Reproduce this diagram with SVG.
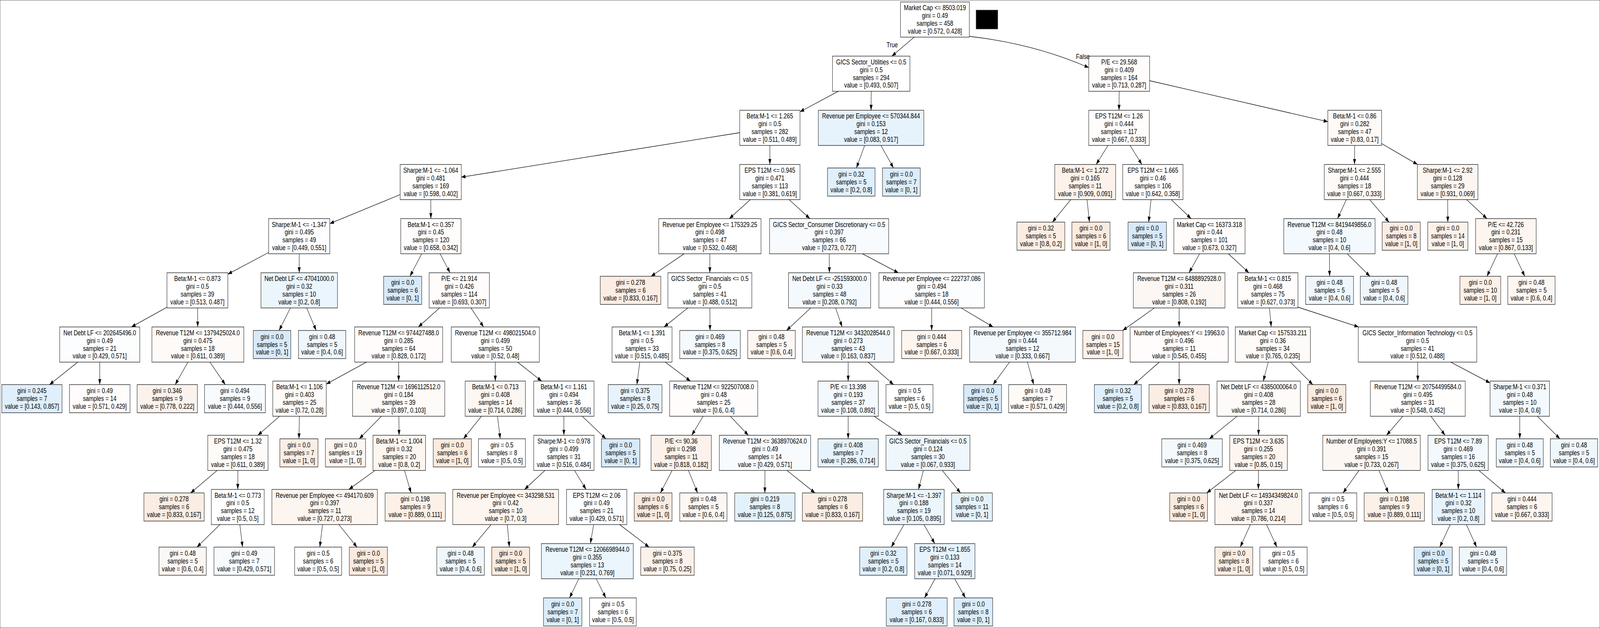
<svg xmlns="http://www.w3.org/2000/svg" width="5414" height="1607" viewBox="0 0 5414 1607" preserveAspectRatio="none">
<defs>
<marker id="ah" viewBox="0 0 14 10" refX="14" refY="5" markerWidth="14" markerHeight="10" markerUnits="userSpaceOnUse" orient="auto"><path d="M0,0L14,5L0,10z" fill="#000"/></marker>
<style>
svg{width:100vw;height:100vh}
rect{stroke:#333;stroke-width:1.5}
text{font-family:"Liberation Sans",Arial,Helvetica,sans-serif;font-size:19px;text-anchor:middle;fill:#000}
.e{stroke:#000;stroke-width:1.3;fill:none;marker-end:url(#ah)}
.w{fill:#ffffff}
.o0{fill:#fffefd}.o1{fill:#fffcfb}.o2{fill:#fefaf7}.o3{fill:#fdf7f3}.o4{fill:#fdf5ef}.o5{fill:#fcf2eb}.o6{fill:#fcf0e7}.o7{fill:#fbede3}.o8{fill:#fbeade}
.b0{fill:#fdfeff}.b1{fill:#fbfdff}.b2{fill:#f7fbfe}.b3{fill:#f3f9fd}.b4{fill:#eff7fd}.b5{fill:#ebf5fc}.b6{fill:#e7f3fc}.b7{fill:#e3f1fb}.b8{fill:#dfeffb}.b9{fill:#dbedfa}.b10{fill:#d8eaf9}
</style>
</defs>
<rect x="0" y="0" width="5414" height="1607" fill="#fff" stroke="none"/>
<rect x="3303" y="26" width="73" height="48" fill="#000" stroke="none"/>
<g id="nodes">
<g id="n0"><rect class="w" x="3047" y="5" width="233" height="90"/><text y="26.2"><tspan x="3163.5">Market Cap &lt;= 8503.019</tspan><tspan x="3163.5" dy="19.9">gini = 0.49</tspan><tspan x="3163.5" dy="19.9">samples = 458</tspan><tspan x="3163.5" dy="19.9">value = [0.572, 0.428]</tspan></text></g>
<g id="n1"><rect class="w" x="2817" y="143.6" width="262" height="90"/><text y="164.8"><tspan x="2948">GICS Sector_Utilities &lt;= 0.5</tspan><tspan x="2948" dy="19.9">gini = 0.5</tspan><tspan x="2948" dy="19.9">samples = 294</tspan><tspan x="2948" dy="19.9">value = [0.493, 0.507]</tspan></text></g>
<g id="n2"><rect class="o1" x="3684" y="143.6" width="206" height="90"/><text y="164.8"><tspan x="3787">P/E &lt;= 29.568</tspan><tspan x="3787" dy="19.9">gini = 0.409</tspan><tspan x="3787" dy="19.9">samples = 164</tspan><tspan x="3787" dy="19.9">value = [0.713, 0.287]</tspan></text></g>
<g id="n3"><rect class="w" x="2503" y="282.2" width="204" height="90"/><text y="303.4"><tspan x="2605">Beta:M-1 &lt;= 1.265</tspan><tspan x="2605" dy="19.9">gini = 0.5</tspan><tspan x="2605" dy="19.9">samples = 282</tspan><tspan x="2605" dy="19.9">value = [0.511, 0.489]</tspan></text></g>
<g id="n4"><rect class="b6" x="2769" y="282.2" width="357" height="90"/><text y="303.4"><tspan x="2947.5">Revenue per Employee &lt;= 570344.844</tspan><tspan x="2947.5" dy="19.9">gini = 0.153</tspan><tspan x="2947.5" dy="19.9">samples = 12</tspan><tspan x="2947.5" dy="19.9">value = [0.083, 0.917]</tspan></text></g>
<g id="n5"><rect class="o1" x="3684" y="282.2" width="205" height="90"/><text y="303.4"><tspan x="3786.5">EPS T12M &lt;= 1.26</tspan><tspan x="3786.5" dy="19.9">gini = 0.444</tspan><tspan x="3786.5" dy="19.9">samples = 117</tspan><tspan x="3786.5" dy="19.9">value = [0.667, 0.333]</tspan></text></g>
<g id="n6"><rect class="o2" x="4493" y="282.2" width="182" height="90"/><text y="303.4"><tspan x="4584">Beta:M-1 &lt;= 0.86</tspan><tspan x="4584" dy="19.9">gini = 0.282</tspan><tspan x="4584" dy="19.9">samples = 47</tspan><tspan x="4584" dy="19.9">value = [0.83, 0.17]</tspan></text></g>
<g id="n7"><rect class="o0" x="1354" y="420.8" width="207" height="90"/><text y="442"><tspan x="1457.5">Sharpe:M-1 &lt;= -1.064</tspan><tspan x="1457.5" dy="19.9">gini = 0.481</tspan><tspan x="1457.5" dy="19.9">samples = 169</tspan><tspan x="1457.5" dy="19.9">value = [0.598, 0.402]</tspan></text></g>
<g id="n8"><rect class="b1" x="2503" y="420.8" width="204" height="90"/><text y="442"><tspan x="2605">EPS T12M &lt;= 0.945</tspan><tspan x="2605" dy="19.9">gini = 0.471</tspan><tspan x="2605" dy="19.9">samples = 113</tspan><tspan x="2605" dy="19.9">value = [0.381, 0.619]</tspan></text></g>
<g id="n9"><rect class="b8" x="2800" y="429.8" width="161" height="72"/><text y="451.9"><tspan x="2880.5">gini = 0.32</tspan><tspan x="2880.5" dy="19.9">samples = 5</tspan><tspan x="2880.5" dy="19.9">value = [0.2, 0.8]</tspan></text></g>
<g id="n10"><rect class="b9" x="2986" y="429.8" width="128" height="72"/><text y="451.9"><tspan x="3050">gini = 0.0</tspan><tspan x="3050" dy="19.9">samples = 7</tspan><tspan x="3050" dy="19.9">value = [0, 1]</tspan></text></g>
<g id="n11"><rect class="o5" x="3569" y="420.8" width="206" height="90"/><text y="442"><tspan x="3672">Beta:M-1 &lt;= 1.272</tspan><tspan x="3672" dy="19.9">gini = 0.165</tspan><tspan x="3672" dy="19.9">samples = 11</tspan><tspan x="3672" dy="19.9">value = [0.909, 0.091]</tspan></text></g>
<g id="n12"><rect class="o1" x="3799" y="420.8" width="204" height="90"/><text y="442"><tspan x="3901">EPS T12M &lt;= 1.665</tspan><tspan x="3901" dy="19.9">gini = 0.46</tspan><tspan x="3901" dy="19.9">samples = 106</tspan><tspan x="3901" dy="19.9">value = [0.642, 0.358]</tspan></text></g>
<g id="n13"><rect class="o2" x="4481" y="420.8" width="204" height="90"/><text y="442"><tspan x="4583">Sharpe:M-1 &lt;= 2.555</tspan><tspan x="4583" dy="19.9">gini = 0.444</tspan><tspan x="4583" dy="19.9">samples = 18</tspan><tspan x="4583" dy="19.9">value = [0.667, 0.333]</tspan></text></g>
<g id="n14"><rect class="o4" x="4796" y="420.8" width="205" height="90"/><text y="442"><tspan x="4898.5">Sharpe:M-1 &lt;= 2.92</tspan><tspan x="4898.5" dy="19.9">gini = 0.128</tspan><tspan x="4898.5" dy="19.9">samples = 29</tspan><tspan x="4898.5" dy="19.9">value = [0.931, 0.069]</tspan></text></g>
<g id="n15"><rect class="b0" x="909" y="559.4" width="207" height="90"/><text y="580.6"><tspan x="1012.5">Sharpe:M-1 &lt;= -1.347</tspan><tspan x="1012.5" dy="19.9">gini = 0.495</tspan><tspan x="1012.5" dy="19.9">samples = 49</tspan><tspan x="1012.5" dy="19.9">value = [0.449, 0.551]</tspan></text></g>
<g id="n16"><rect class="o1" x="1356" y="559.4" width="204" height="90"/><text y="580.6"><tspan x="1458">Beta:M-1 &lt;= 0.357</tspan><tspan x="1458" dy="19.9">gini = 0.45</tspan><tspan x="1458" dy="19.9">samples = 120</tspan><tspan x="1458" dy="19.9">value = [0.658, 0.342]</tspan></text></g>
<g id="n17"><rect class="w" x="2229" y="559.4" width="346" height="90"/><text y="580.6"><tspan x="2402">Revenue per Employee &lt;= 175329.25</tspan><tspan x="2402" dy="19.9">gini = 0.498</tspan><tspan x="2402" dy="19.9">samples = 47</tspan><tspan x="2402" dy="19.9">value = [0.532, 0.468]</tspan></text></g>
<g id="n18"><rect class="b2" x="2604" y="559.4" width="403" height="90"/><text y="580.6"><tspan x="2805.5">GICS Sector_Consumer Discretionary &lt;= 0.5</tspan><tspan x="2805.5" dy="19.9">gini = 0.397</tspan><tspan x="2805.5" dy="19.9">samples = 66</tspan><tspan x="2805.5" dy="19.9">value = [0.273, 0.727]</tspan></text></g>
<g id="n19"><rect class="o7" x="3441" y="568.4" width="162" height="72"/><text y="590.5"><tspan x="3522">gini = 0.32</tspan><tspan x="3522" dy="19.9">samples = 5</tspan><tspan x="3522" dy="19.9">value = [0.8, 0.2]</tspan></text></g>
<g id="n20"><rect class="o8" x="3627" y="568.4" width="129" height="72"/><text y="590.5"><tspan x="3691.5">gini = 0.0</tspan><tspan x="3691.5" dy="19.9">samples = 6</tspan><tspan x="3691.5" dy="19.9">value = [1, 0]</tspan></text></g>
<g id="n21"><rect class="b10" x="3817" y="568.4" width="130" height="72"/><text y="590.5"><tspan x="3882">gini = 0.0</tspan><tspan x="3882" dy="19.9">samples = 5</tspan><tspan x="3882" dy="19.9">value = [0, 1]</tspan></text></g>
<g id="n22"><rect class="o1" x="3972" y="559.4" width="241" height="90"/><text y="580.6"><tspan x="4092.5">Market Cap &lt;= 16373.318</tspan><tspan x="4092.5" dy="19.9">gini = 0.44</tspan><tspan x="4092.5" dy="19.9">samples = 101</tspan><tspan x="4092.5" dy="19.9">value = [0.673, 0.327]</tspan></text></g>
<g id="n23"><rect class="b3" x="4344" y="559.4" width="309" height="90"/><text y="580.6"><tspan x="4498.5">Revenue T12M &lt;= 8419449856.0</tspan><tspan x="4498.5" dy="19.9">gini = 0.48</tspan><tspan x="4498.5" dy="19.9">samples = 10</tspan><tspan x="4498.5" dy="19.9">value = [0.4, 0.6]</tspan></text></g>
<g id="n24"><rect class="o7" x="4677" y="568.4" width="129" height="72"/><text y="590.5"><tspan x="4741.5">gini = 0.0</tspan><tspan x="4741.5" dy="19.9">samples = 8</tspan><tspan x="4741.5" dy="19.9">value = [1, 0]</tspan></text></g>
<g id="n25"><rect class="o5" x="4831" y="568.4" width="136" height="72"/><text y="590.5"><tspan x="4899">gini = 0.0</tspan><tspan x="4899" dy="19.9">samples = 14</tspan><tspan x="4899" dy="19.9">value = [1, 0]</tspan></text></g>
<g id="n26"><rect class="o4" x="4993" y="559.4" width="205" height="90"/><text y="580.6"><tspan x="5095.5">P/E &lt;= 42.726</tspan><tspan x="5095.5" dy="19.9">gini = 0.231</tspan><tspan x="5095.5" dy="19.9">samples = 15</tspan><tspan x="5095.5" dy="19.9">value = [0.867, 0.133]</tspan></text></g>
<g id="n27"><rect class="w" x="565" y="698" width="206" height="90"/><text y="719.2"><tspan x="668">Beta:M-1 &lt;= 0.873</tspan><tspan x="668" dy="19.9">gini = 0.5</tspan><tspan x="668" dy="19.9">samples = 39</tspan><tspan x="668" dy="19.9">value = [0.513, 0.487]</tspan></text></g>
<g id="n28"><rect class="b5" x="883" y="698" width="259" height="90"/><text y="719.2"><tspan x="1012.5">Net Debt LF &lt;= 47041000.0</tspan><tspan x="1012.5" dy="19.9">gini = 0.32</tspan><tspan x="1012.5" dy="19.9">samples = 10</tspan><tspan x="1012.5" dy="19.9">value = [0.2, 0.8]</tspan></text></g>
<g id="n29"><rect class="b10" x="1298" y="707" width="129" height="72"/><text y="729.1"><tspan x="1362.5">gini = 0.0</tspan><tspan x="1362.5" dy="19.9">samples = 6</tspan><tspan x="1362.5" dy="19.9">value = [0, 1]</tspan></text></g>
<g id="n30"><rect class="o1" x="1452" y="698" width="204" height="90"/><text y="719.2"><tspan x="1554">P/E &lt;= 21.914</tspan><tspan x="1554" dy="19.9">gini = 0.426</tspan><tspan x="1554" dy="19.9">samples = 114</tspan><tspan x="1554" dy="19.9">value = [0.693, 0.307]</tspan></text></g>
<g id="n31"><rect class="o7" x="2031" y="707" width="205" height="72"/><text y="729.1"><tspan x="2133.5">gini = 0.278</tspan><tspan x="2133.5" dy="19.9">samples = 6</tspan><tspan x="2133.5" dy="19.9">value = [0.833, 0.167]</tspan></text></g>
<g id="n32"><rect class="w" x="2260" y="698" width="284" height="90"/><text y="719.2"><tspan x="2402">GICS Sector_Financials &lt;= 0.5</tspan><tspan x="2402" dy="19.9">gini = 0.5</tspan><tspan x="2402" dy="19.9">samples = 41</tspan><tspan x="2402" dy="19.9">value = [0.488, 0.512]</tspan></text></g>
<g id="n33"><rect class="b3" x="2668" y="698" width="278" height="90"/><text y="719.2"><tspan x="2807">Net Debt LF &lt;= -251593000.0</tspan><tspan x="2807" dy="19.9">gini = 0.33</tspan><tspan x="2807" dy="19.9">samples = 48</tspan><tspan x="2807" dy="19.9">value = [0.208, 0.792]</tspan></text></g>
<g id="n34"><rect class="b1" x="2974" y="698" width="357" height="90"/><text y="719.2"><tspan x="3152.5">Revenue per Employee &lt;= 222737.086</tspan><tspan x="3152.5" dy="19.9">gini = 0.494</tspan><tspan x="3152.5" dy="19.9">samples = 18</tspan><tspan x="3152.5" dy="19.9">value = [0.444, 0.556]</tspan></text></g>
<g id="n35"><rect class="o3" x="3835" y="698" width="310" height="90"/><text y="719.2"><tspan x="3990">Revenue T12M &lt;= 6488892928.0</tspan><tspan x="3990" dy="19.9">gini = 0.311</tspan><tspan x="3990" dy="19.9">samples = 26</tspan><tspan x="3990" dy="19.9">value = [0.808, 0.192]</tspan></text></g>
<g id="n36"><rect class="o1" x="4188" y="698" width="204" height="90"/><text y="719.2"><tspan x="4290">Beta:M-1 &lt;= 0.815</tspan><tspan x="4290" dy="19.9">gini = 0.468</tspan><tspan x="4290" dy="19.9">samples = 75</tspan><tspan x="4290" dy="19.9">value = [0.627, 0.373]</tspan></text></g>
<g id="n37"><rect class="b4" x="4418" y="707" width="162" height="72"/><text y="729.1"><tspan x="4499">gini = 0.48</tspan><tspan x="4499" dy="19.9">samples = 5</tspan><tspan x="4499" dy="19.9">value = [0.4, 0.6]</tspan></text></g>
<g id="n38"><rect class="b4" x="4603" y="707" width="161" height="72"/><text y="729.1"><tspan x="4683.5">gini = 0.48</tspan><tspan x="4683.5" dy="19.9">samples = 5</tspan><tspan x="4683.5" dy="19.9">value = [0.4, 0.6]</tspan></text></g>
<g id="n39"><rect class="o6" x="4940" y="707" width="138" height="72"/><text y="729.1"><tspan x="5009">gini = 0.0</tspan><tspan x="5009" dy="19.9">samples = 10</tspan><tspan x="5009" dy="19.9">value = [1, 0]</tspan></text></g>
<g id="n40"><rect class="o3" x="5102" y="707" width="160" height="72"/><text y="729.1"><tspan x="5182">gini = 0.48</tspan><tspan x="5182" dy="19.9">samples = 5</tspan><tspan x="5182" dy="19.9">value = [0.6, 0.4]</tspan></text></g>
<g id="n41"><rect class="b1" x="202" y="836.6" width="271" height="90"/><text y="857.8"><tspan x="337.5">Net Debt LF &lt;= 202645496.0</tspan><tspan x="337.5" dy="19.9">gini = 0.49</tspan><tspan x="337.5" dy="19.9">samples = 21</tspan><tspan x="337.5" dy="19.9">value = [0.429, 0.571]</tspan></text></g>
<g id="n42"><rect class="o2" x="514" y="836.6" width="311" height="90"/><text y="857.8"><tspan x="669.5">Revenue T12M &lt;= 1379425024.0</tspan><tspan x="669.5" dy="19.9">gini = 0.475</tspan><tspan x="669.5" dy="19.9">samples = 18</tspan><tspan x="669.5" dy="19.9">value = [0.611, 0.389]</tspan></text></g>
<g id="n43"><rect class="b10" x="857" y="845.6" width="127" height="72"/><text y="867.7"><tspan x="920.5">gini = 0.0</tspan><tspan x="920.5" dy="19.9">samples = 5</tspan><tspan x="920.5" dy="19.9">value = [0, 1]</tspan></text></g>
<g id="n44"><rect class="b4" x="1010" y="845.6" width="160" height="72"/><text y="867.7"><tspan x="1090">gini = 0.48</tspan><tspan x="1090" dy="19.9">samples = 5</tspan><tspan x="1090" dy="19.9">value = [0.4, 0.6]</tspan></text></g>
<g id="n45"><rect class="o1" x="1200" y="836.6" width="298" height="90"/><text y="857.8"><tspan x="1349">Revenue T12M &lt;= 974427488.0</tspan><tspan x="1349" dy="19.9">gini = 0.285</tspan><tspan x="1349" dy="19.9">samples = 64</tspan><tspan x="1349" dy="19.9">value = [0.828, 0.172]</tspan></text></g>
<g id="n46"><rect class="w" x="1527" y="836.6" width="298" height="90"/><text y="857.8"><tspan x="1676">Revenue T12M &lt;= 498021504.0</tspan><tspan x="1676" dy="19.9">gini = 0.499</tspan><tspan x="1676" dy="19.9">samples = 50</tspan><tspan x="1676" dy="19.9">value = [0.52, 0.48]</tspan></text></g>
<g id="n47"><rect class="w" x="2071" y="836.6" width="203" height="90"/><text y="857.8"><tspan x="2172.5">Beta:M-1 &lt;= 1.391</tspan><tspan x="2172.5" dy="19.9">gini = 0.5</tspan><tspan x="2172.5" dy="19.9">samples = 33</tspan><tspan x="2172.5" dy="19.9">value = [0.515, 0.485]</tspan></text></g>
<g id="n48"><rect class="b3" x="2300" y="845.6" width="205" height="72"/><text y="867.7"><tspan x="2402.5">gini = 0.469</tspan><tspan x="2402.5" dy="19.9">samples = 8</tspan><tspan x="2402.5" dy="19.9">value = [0.375, 0.625]</tspan></text></g>
<g id="n49"><rect class="o3" x="2530" y="845.6" width="161" height="72"/><text y="867.7"><tspan x="2610.5">gini = 0.48</tspan><tspan x="2610.5" dy="19.9">samples = 5</tspan><tspan x="2610.5" dy="19.9">value = [0.6, 0.4]</tspan></text></g>
<g id="n50"><rect class="b3" x="2715" y="836.6" width="310" height="90"/><text y="857.8"><tspan x="2870">Revenue T12M &lt;= 3432028544.0</tspan><tspan x="2870" dy="19.9">gini = 0.273</tspan><tspan x="2870" dy="19.9">samples = 43</tspan><tspan x="2870" dy="19.9">value = [0.163, 0.837]</tspan></text></g>
<g id="n51"><rect class="o4" x="3051" y="845.6" width="203" height="72"/><text y="867.7"><tspan x="3152.5">gini = 0.444</tspan><tspan x="3152.5" dy="19.9">samples = 6</tspan><tspan x="3152.5" dy="19.9">value = [0.667, 0.333]</tspan></text></g>
<g id="n52"><rect class="b3" x="3281" y="836.6" width="358" height="90"/><text y="857.8"><tspan x="3460">Revenue per Employee &lt;= 355712.984</tspan><tspan x="3460" dy="19.9">gini = 0.444</tspan><tspan x="3460" dy="19.9">samples = 12</tspan><tspan x="3460" dy="19.9">value = [0.333, 0.667]</tspan></text></g>
<g id="n53"><rect class="o5" x="3664" y="845.6" width="136" height="72"/><text y="867.7"><tspan x="3732">gini = 0.0</tspan><tspan x="3732" dy="19.9">samples = 15</tspan><tspan x="3732" dy="19.9">value = [1, 0]</tspan></text></g>
<g id="n54"><rect class="o1" x="3824" y="836.6" width="332" height="90"/><text y="857.8"><tspan x="3990">Number of Employees:Y &lt;= 19963.0</tspan><tspan x="3990" dy="19.9">gini = 0.496</tspan><tspan x="3990" dy="19.9">samples = 11</tspan><tspan x="3990" dy="19.9">value = [0.545, 0.455]</tspan></text></g>
<g id="n55"><rect class="o2" x="4180" y="836.6" width="254" height="90"/><text y="857.8"><tspan x="4307">Market Cap &lt;= 157533.211</tspan><tspan x="4307" dy="19.9">gini = 0.36</tspan><tspan x="4307" dy="19.9">samples = 34</tspan><tspan x="4307" dy="19.9">value = [0.765, 0.235]</tspan></text></g>
<g id="n56"><rect class="w" x="4596" y="836.6" width="401" height="90"/><text y="857.8"><tspan x="4796.5">GICS Sector_Information Technology &lt;= 0.5</tspan><tspan x="4796.5" dy="19.9">gini = 0.5</tspan><tspan x="4796.5" dy="19.9">samples = 41</tspan><tspan x="4796.5" dy="19.9">value = [0.512, 0.488]</tspan></text></g>
<g id="n57"><rect class="b8" x="6" y="984.2" width="204" height="72"/><text y="1006.3"><tspan x="108">gini = 0.245</tspan><tspan x="108" dy="19.9">samples = 7</tspan><tspan x="108" dy="19.9">value = [0.143, 0.857]</tspan></text></g>
<g id="n58"><rect class="o1" x="235" y="984.2" width="205" height="72"/><text y="1006.3"><tspan x="337.5">gini = 0.49</tspan><tspan x="337.5" dy="19.9">samples = 14</tspan><tspan x="337.5" dy="19.9">value = [0.571, 0.429]</tspan></text></g>
<g id="n59"><rect class="o5" x="464" y="984.2" width="204" height="72"/><text y="1006.3"><tspan x="566">gini = 0.346</tspan><tspan x="566" dy="19.9">samples = 9</tspan><tspan x="566" dy="19.9">value = [0.778, 0.222]</tspan></text></g>
<g id="n60"><rect class="b2" x="692" y="984.2" width="206" height="72"/><text y="1006.3"><tspan x="795">gini = 0.494</tspan><tspan x="795" dy="19.9">samples = 9</tspan><tspan x="795" dy="19.9">value = [0.444, 0.556]</tspan></text></g>
<g id="n61"><rect class="o2" x="923" y="975.2" width="181" height="90"/><text y="996.4"><tspan x="1013.5">Beta:M-1 &lt;= 1.106</tspan><tspan x="1013.5" dy="19.9">gini = 0.403</tspan><tspan x="1013.5" dy="19.9">samples = 25</tspan><tspan x="1013.5" dy="19.9">value = [0.72, 0.28]</tspan></text></g>
<g id="n62"><rect class="o2" x="1193" y="975.2" width="312" height="90"/><text y="996.4"><tspan x="1349">Revenue T12M &lt;= 1696112512.0</tspan><tspan x="1349" dy="19.9">gini = 0.184</tspan><tspan x="1349" dy="19.9">samples = 39</tspan><tspan x="1349" dy="19.9">value = [0.897, 0.103]</tspan></text></g>
<g id="n63"><rect class="o3" x="1574" y="975.2" width="204" height="90"/><text y="996.4"><tspan x="1676">Beta:M-1 &lt;= 0.713</tspan><tspan x="1676" dy="19.9">gini = 0.408</tspan><tspan x="1676" dy="19.9">samples = 14</tspan><tspan x="1676" dy="19.9">value = [0.714, 0.286]</tspan></text></g>
<g id="n64"><rect class="b1" x="1806" y="975.2" width="204" height="90"/><text y="996.4"><tspan x="1908">Beta:M-1 &lt;= 1.161</tspan><tspan x="1908" dy="19.9">gini = 0.494</tspan><tspan x="1908" dy="19.9">samples = 36</tspan><tspan x="1908" dy="19.9">value = [0.444, 0.556]</tspan></text></g>
<g id="n65"><rect class="b6" x="2058" y="984.2" width="182" height="72"/><text y="1006.3"><tspan x="2149">gini = 0.375</tspan><tspan x="2149" dy="19.9">samples = 8</tspan><tspan x="2149" dy="19.9">value = [0.25, 0.75]</tspan></text></g>
<g id="n66"><rect class="o1" x="2266" y="975.2" width="298" height="90"/><text y="996.4"><tspan x="2415">Revenue T12M &lt;= 922507008.0</tspan><tspan x="2415" dy="19.9">gini = 0.48</tspan><tspan x="2415" dy="19.9">samples = 25</tspan><tspan x="2415" dy="19.9">value = [0.6, 0.4]</tspan></text></g>
<g id="n67"><rect class="b3" x="2768" y="975.2" width="204" height="90"/><text y="996.4"><tspan x="2870">P/E &lt;= 13.398</tspan><tspan x="2870" dy="19.9">gini = 0.193</tspan><tspan x="2870" dy="19.9">samples = 37</tspan><tspan x="2870" dy="19.9">value = [0.108, 0.892]</tspan></text></g>
<g id="n68"><rect class="w" x="2998" y="984.2" width="159" height="72"/><text y="1006.3"><tspan x="3077.5">gini = 0.5</tspan><tspan x="3077.5" dy="19.9">samples = 6</tspan><tspan x="3077.5" dy="19.9">value = [0.5, 0.5]</tspan></text></g>
<g id="n69"><rect class="b10" x="3261" y="984.2" width="128" height="72"/><text y="1006.3"><tspan x="3325">gini = 0.0</tspan><tspan x="3325" dy="19.9">samples = 5</tspan><tspan x="3325" dy="19.9">value = [0, 1]</tspan></text></g>
<g id="n70"><rect class="o2" x="3413" y="984.2" width="196" height="72"/><text y="1006.3"><tspan x="3511">gini = 0.49</tspan><tspan x="3511" dy="19.9">samples = 7</tspan><tspan x="3511" dy="19.9">value = [0.571, 0.429]</tspan></text></g>
<g id="n71"><rect class="b8" x="3703" y="984.2" width="159" height="72"/><text y="1006.3"><tspan x="3782.5">gini = 0.32</tspan><tspan x="3782.5" dy="19.9">samples = 5</tspan><tspan x="3782.5" dy="19.9">value = [0.2, 0.8]</tspan></text></g>
<g id="n72"><rect class="o7" x="3888" y="984.2" width="204" height="72"/><text y="1006.3"><tspan x="3990">gini = 0.278</tspan><tspan x="3990" dy="19.9">samples = 6</tspan><tspan x="3990" dy="19.9">value = [0.833, 0.167]</tspan></text></g>
<g id="n73"><rect class="o2" x="4118" y="975.2" width="282" height="90"/><text y="996.4"><tspan x="4259">Net Debt LF &lt;= 4385000064.0</tspan><tspan x="4259" dy="19.9">gini = 0.408</tspan><tspan x="4259" dy="19.9">samples = 28</tspan><tspan x="4259" dy="19.9">value = [0.714, 0.286]</tspan></text></g>
<g id="n74"><rect class="o8" x="4425" y="984.2" width="129" height="72"/><text y="1006.3"><tspan x="4489.5">gini = 0.0</tspan><tspan x="4489.5" dy="19.9">samples = 6</tspan><tspan x="4489.5" dy="19.9">value = [1, 0]</tspan></text></g>
<g id="n75"><rect class="o0" x="4637" y="975.2" width="321" height="90"/><text y="996.4"><tspan x="4797.5">Revenue T12M &lt;= 20754499584.0</tspan><tspan x="4797.5" dy="19.9">gini = 0.495</tspan><tspan x="4797.5" dy="19.9">samples = 31</tspan><tspan x="4797.5" dy="19.9">value = [0.548, 0.452]</tspan></text></g>
<g id="n76"><rect class="b3" x="5042" y="975.2" width="201" height="90"/><text y="996.4"><tspan x="5142.5">Sharpe:M-1 &lt;= 0.371</tspan><tspan x="5142.5" dy="19.9">gini = 0.48</tspan><tspan x="5142.5" dy="19.9">samples = 10</tspan><tspan x="5142.5" dy="19.9">value = [0.4, 0.6]</tspan></text></g>
<g id="n77"><rect class="o2" x="703" y="1113.8" width="204" height="90"/><text y="1135"><tspan x="805">EPS T12M &lt;= 1.32</tspan><tspan x="805" dy="19.9">gini = 0.475</tspan><tspan x="805" dy="19.9">samples = 18</tspan><tspan x="805" dy="19.9">value = [0.611, 0.389]</tspan></text></g>
<g id="n78"><rect class="o7" x="947" y="1122.8" width="129" height="72"/><text y="1144.9"><tspan x="1011.5">gini = 0.0</tspan><tspan x="1011.5" dy="19.9">samples = 7</tspan><tspan x="1011.5" dy="19.9">value = [1, 0]</tspan></text></g>
<g id="n79"><rect class="o4" x="1101" y="1122.8" width="136" height="72"/><text y="1144.9"><tspan x="1169">gini = 0.0</tspan><tspan x="1169" dy="19.9">samples = 19</tspan><tspan x="1169" dy="19.9">value = [1, 0]</tspan></text></g>
<g id="n80"><rect class="o4" x="1262" y="1113.8" width="178" height="90"/><text y="1135"><tspan x="1351">Beta:M-1 &lt;= 1.004</tspan><tspan x="1351" dy="19.9">gini = 0.32</tspan><tspan x="1351" dy="19.9">samples = 20</tspan><tspan x="1351" dy="19.9">value = [0.8, 0.2]</tspan></text></g>
<g id="n81"><rect class="o8" x="1466" y="1122.8" width="129" height="72"/><text y="1144.9"><tspan x="1530.5">gini = 0.0</tspan><tspan x="1530.5" dy="19.9">samples = 6</tspan><tspan x="1530.5" dy="19.9">value = [1, 0]</tspan></text></g>
<g id="n82"><rect class="w" x="1619" y="1122.8" width="159" height="72"/><text y="1144.9"><tspan x="1698.5">gini = 0.5</tspan><tspan x="1698.5" dy="19.9">samples = 8</tspan><tspan x="1698.5" dy="19.9">value = [0.5, 0.5]</tspan></text></g>
<g id="n83"><rect class="w" x="1806" y="1113.8" width="204" height="90"/><text y="1135"><tspan x="1908">Sharpe:M-1 &lt;= 0.978</tspan><tspan x="1908" dy="19.9">gini = 0.499</tspan><tspan x="1908" dy="19.9">samples = 31</tspan><tspan x="1908" dy="19.9">value = [0.516, 0.484]</tspan></text></g>
<g id="n84"><rect class="b10" x="2035" y="1122.8" width="130" height="72"/><text y="1144.9"><tspan x="2100">gini = 0.0</tspan><tspan x="2100" dy="19.9">samples = 5</tspan><tspan x="2100" dy="19.9">value = [0, 1]</tspan></text></g>
<g id="n85"><rect class="o5" x="2203" y="1113.8" width="204" height="90"/><text y="1135"><tspan x="2305">P/E &lt;= 90.36</tspan><tspan x="2305" dy="19.9">gini = 0.298</tspan><tspan x="2305" dy="19.9">samples = 11</tspan><tspan x="2305" dy="19.9">value = [0.818, 0.182]</tspan></text></g>
<g id="n86"><rect class="b2" x="2434" y="1113.8" width="309" height="90"/><text y="1135"><tspan x="2588.5">Revenue T12M &lt;= 3638970624.0</tspan><tspan x="2588.5" dy="19.9">gini = 0.49</tspan><tspan x="2588.5" dy="19.9">samples = 14</tspan><tspan x="2588.5" dy="19.9">value = [0.429, 0.571]</tspan></text></g>
<g id="n87"><rect class="b6" x="2768" y="1122.8" width="204" height="72"/><text y="1144.9"><tspan x="2870">gini = 0.408</tspan><tspan x="2870" dy="19.9">samples = 7</tspan><tspan x="2870" dy="19.9">value = [0.286, 0.714]</tspan></text></g>
<g id="n88"><rect class="b4" x="2998" y="1113.8" width="284" height="90"/><text y="1135"><tspan x="3140">GICS Sector_Financials &lt;= 0.5</tspan><tspan x="3140" dy="19.9">gini = 0.124</tspan><tspan x="3140" dy="19.9">samples = 30</tspan><tspan x="3140" dy="19.9">value = [0.067, 0.933]</tspan></text></g>
<g id="n89"><rect class="b3" x="3931" y="1122.8" width="205" height="72"/><text y="1144.9"><tspan x="4033.5">gini = 0.469</tspan><tspan x="4033.5" dy="19.9">samples = 8</tspan><tspan x="4033.5" dy="19.9">value = [0.375, 0.625]</tspan></text></g>
<g id="n90"><rect class="o4" x="4161" y="1113.8" width="195" height="90"/><text y="1135"><tspan x="4258.5">EPS T12M &lt;= 3.635</tspan><tspan x="4258.5" dy="19.9">gini = 0.255</tspan><tspan x="4258.5" dy="19.9">samples = 20</tspan><tspan x="4258.5" dy="19.9">value = [0.85, 0.15]</tspan></text></g>
<g id="n91"><rect class="o3" x="4476" y="1113.8" width="330" height="90"/><text y="1135"><tspan x="4641">Number of Employees:Y &lt;= 17088.5</tspan><tspan x="4641" dy="19.9">gini = 0.391</tspan><tspan x="4641" dy="19.9">samples = 15</tspan><tspan x="4641" dy="19.9">value = [0.733, 0.267]</tspan></text></g>
<g id="n92"><rect class="b3" x="4832" y="1113.8" width="204" height="90"/><text y="1135"><tspan x="4934">EPS T12M &lt;= 7.89</tspan><tspan x="4934" dy="19.9">gini = 0.469</tspan><tspan x="4934" dy="19.9">samples = 16</tspan><tspan x="4934" dy="19.9">value = [0.375, 0.625]</tspan></text></g>
<g id="n93"><rect class="b4" x="5063" y="1122.8" width="159" height="72"/><text y="1144.9"><tspan x="5142.5">gini = 0.48</tspan><tspan x="5142.5" dy="19.9">samples = 5</tspan><tspan x="5142.5" dy="19.9">value = [0.4, 0.6]</tspan></text></g>
<g id="n94"><rect class="b4" x="5246" y="1122.8" width="160" height="72"/><text y="1144.9"><tspan x="5326">gini = 0.48</tspan><tspan x="5326" dy="19.9">samples = 5</tspan><tspan x="5326" dy="19.9">value = [0.4, 0.6]</tspan></text></g>
<g id="n95"><rect class="o7" x="487" y="1261.4" width="204" height="72"/><text y="1283.5"><tspan x="589">gini = 0.278</tspan><tspan x="589" dy="19.9">samples = 6</tspan><tspan x="589" dy="19.9">value = [0.833, 0.167]</tspan></text></g>
<g id="n96"><rect class="w" x="715" y="1252.4" width="179" height="90"/><text y="1273.6"><tspan x="804.5">Beta:M-1 &lt;= 0.773</tspan><tspan x="804.5" dy="19.9">gini = 0.5</tspan><tspan x="804.5" dy="19.9">samples = 12</tspan><tspan x="804.5" dy="19.9">value = [0.5, 0.5]</tspan></text></g>
<g id="n97"><rect class="o4" x="920" y="1252.4" width="357" height="90"/><text y="1273.6"><tspan x="1098.5">Revenue per Employee &lt;= 494170.609</tspan><tspan x="1098.5" dy="19.9">gini = 0.397</tspan><tspan x="1098.5" dy="19.9">samples = 11</tspan><tspan x="1098.5" dy="19.9">value = [0.727, 0.273]</tspan></text></g>
<g id="n98"><rect class="o6" x="1303" y="1261.4" width="204" height="72"/><text y="1283.5"><tspan x="1405">gini = 0.198</tspan><tspan x="1405" dy="19.9">samples = 9</tspan><tspan x="1405" dy="19.9">value = [0.889, 0.111]</tspan></text></g>
<g id="n99"><rect class="o4" x="1532" y="1252.4" width="358" height="90"/><text y="1273.6"><tspan x="1711">Revenue per Employee &lt;= 343298.531</tspan><tspan x="1711" dy="19.9">gini = 0.42</tspan><tspan x="1711" dy="19.9">samples = 10</tspan><tspan x="1711" dy="19.9">value = [0.7, 0.3]</tspan></text></g>
<g id="n100"><rect class="b1" x="1917" y="1252.4" width="204" height="90"/><text y="1273.6"><tspan x="2019">EPS T12M &lt;= 2.06</tspan><tspan x="2019" dy="19.9">gini = 0.49</tspan><tspan x="2019" dy="19.9">samples = 21</tspan><tspan x="2019" dy="19.9">value = [0.429, 0.571]</tspan></text></g>
<g id="n101"><rect class="o8" x="2146" y="1261.4" width="128" height="72"/><text y="1283.5"><tspan x="2210">gini = 0.0</tspan><tspan x="2210" dy="19.9">samples = 6</tspan><tspan x="2210" dy="19.9">value = [1, 0]</tspan></text></g>
<g id="n102"><rect class="o3" x="2300" y="1261.4" width="160" height="72"/><text y="1283.5"><tspan x="2380">gini = 0.48</tspan><tspan x="2380" dy="19.9">samples = 5</tspan><tspan x="2380" dy="19.9">value = [0.6, 0.4]</tspan></text></g>
<g id="n103"><rect class="b7" x="2486" y="1261.4" width="204" height="72"/><text y="1283.5"><tspan x="2588">gini = 0.219</tspan><tspan x="2588" dy="19.9">samples = 8</tspan><tspan x="2588" dy="19.9">value = [0.125, 0.875]</tspan></text></g>
<g id="n104"><rect class="o7" x="2715" y="1261.4" width="204" height="72"/><text y="1283.5"><tspan x="2817">gini = 0.278</tspan><tspan x="2817" dy="19.9">samples = 6</tspan><tspan x="2817" dy="19.9">value = [0.833, 0.167]</tspan></text></g>
<g id="n105"><rect class="b5" x="2990" y="1252.4" width="205" height="90"/><text y="1273.6"><tspan x="3092.5">Sharpe:M-1 &lt;= -1.397</tspan><tspan x="3092.5" dy="19.9">gini = 0.188</tspan><tspan x="3092.5" dy="19.9">samples = 19</tspan><tspan x="3092.5" dy="19.9">value = [0.105, 0.895]</tspan></text></g>
<g id="n106"><rect class="b7" x="3220" y="1261.4" width="138" height="72"/><text y="1283.5"><tspan x="3289">gini = 0.0</tspan><tspan x="3289" dy="19.9">samples = 11</tspan><tspan x="3289" dy="19.9">value = [0, 1]</tspan></text></g>
<g id="n107"><rect class="o8" x="3958" y="1261.4" width="128" height="72"/><text y="1283.5"><tspan x="4022">gini = 0.0</tspan><tspan x="4022" dy="19.9">samples = 6</tspan><tspan x="4022" dy="19.9">value = [1, 0]</tspan></text></g>
<g id="n108"><rect class="o4" x="4111" y="1252.4" width="294" height="90"/><text y="1273.6"><tspan x="4258">Net Debt LF &lt;= 14934349824.0</tspan><tspan x="4258" dy="19.9">gini = 0.337</tspan><tspan x="4258" dy="19.9">samples = 14</tspan><tspan x="4258" dy="19.9">value = [0.786, 0.214]</tspan></text></g>
<g id="n109"><rect class="w" x="4430" y="1261.4" width="161" height="72"/><text y="1283.5"><tspan x="4510.5">gini = 0.5</tspan><tspan x="4510.5" dy="19.9">samples = 6</tspan><tspan x="4510.5" dy="19.9">value = [0.5, 0.5]</tspan></text></g>
<g id="n110"><rect class="o6" x="4616" y="1261.4" width="204" height="72"/><text y="1283.5"><tspan x="4718">gini = 0.198</tspan><tspan x="4718" dy="19.9">samples = 9</tspan><tspan x="4718" dy="19.9">value = [0.889, 0.111]</tspan></text></g>
<g id="n111"><rect class="b6" x="4846" y="1252.4" width="178" height="90"/><text y="1273.6"><tspan x="4935">Beta:M-1 &lt;= 1.114</tspan><tspan x="4935" dy="19.9">gini = 0.32</tspan><tspan x="4935" dy="19.9">samples = 10</tspan><tspan x="4935" dy="19.9">value = [0.2, 0.8]</tspan></text></g>
<g id="n112"><rect class="o4" x="5048" y="1261.4" width="204" height="72"/><text y="1283.5"><tspan x="5150">gini = 0.444</tspan><tspan x="5150" dy="19.9">samples = 6</tspan><tspan x="5150" dy="19.9">value = [0.667, 0.333]</tspan></text></g>
<g id="n113"><rect class="o3" x="538" y="1400" width="160" height="72"/><text y="1422.1"><tspan x="618">gini = 0.48</tspan><tspan x="618" dy="19.9">samples = 5</tspan><tspan x="618" dy="19.9">value = [0.6, 0.4]</tspan></text></g>
<g id="n114"><rect class="b2" x="724" y="1400" width="205" height="72"/><text y="1422.1"><tspan x="826.5">gini = 0.49</tspan><tspan x="826.5" dy="19.9">samples = 7</tspan><tspan x="826.5" dy="19.9">value = [0.429, 0.571]</tspan></text></g>
<g id="n115"><rect class="w" x="997" y="1400" width="159" height="72"/><text y="1422.1"><tspan x="1076.5">gini = 0.5</tspan><tspan x="1076.5" dy="19.9">samples = 6</tspan><tspan x="1076.5" dy="19.9">value = [0.5, 0.5]</tspan></text></g>
<g id="n116"><rect class="o8" x="1182" y="1400" width="129" height="72"/><text y="1422.1"><tspan x="1246.5">gini = 0.0</tspan><tspan x="1246.5" dy="19.9">samples = 5</tspan><tspan x="1246.5" dy="19.9">value = [1, 0]</tspan></text></g>
<g id="n117"><rect class="b4" x="1478" y="1400" width="161" height="72"/><text y="1422.1"><tspan x="1558.5">gini = 0.48</tspan><tspan x="1558.5" dy="19.9">samples = 5</tspan><tspan x="1558.5" dy="19.9">value = [0.4, 0.6]</tspan></text></g>
<g id="n118"><rect class="o8" x="1664" y="1400" width="128" height="72"/><text y="1422.1"><tspan x="1728">gini = 0.0</tspan><tspan x="1728" dy="19.9">samples = 5</tspan><tspan x="1728" dy="19.9">value = [1, 0]</tspan></text></g>
<g id="n119"><rect class="b5" x="1832" y="1391" width="311" height="90"/><text y="1412.2"><tspan x="1987.5">Revenue T12M &lt;= 1206698944.0</tspan><tspan x="1987.5" dy="19.9">gini = 0.355</tspan><tspan x="1987.5" dy="19.9">samples = 13</tspan><tspan x="1987.5" dy="19.9">value = [0.231, 0.769]</tspan></text></g>
<g id="n120"><rect class="o5" x="2168" y="1400" width="181" height="72"/><text y="1422.1"><tspan x="2258.5">gini = 0.375</tspan><tspan x="2258.5" dy="19.9">samples = 8</tspan><tspan x="2258.5" dy="19.9">value = [0.75, 0.25]</tspan></text></g>
<g id="n121"><rect class="b8" x="2909" y="1400" width="160" height="72"/><text y="1422.1"><tspan x="2989">gini = 0.32</tspan><tspan x="2989" dy="19.9">samples = 5</tspan><tspan x="2989" dy="19.9">value = [0.2, 0.8]</tspan></text></g>
<g id="n122"><rect class="b6" x="3095" y="1391" width="204" height="90"/><text y="1412.2"><tspan x="3197">EPS T12M &lt;= 1.855</tspan><tspan x="3197" dy="19.9">gini = 0.133</tspan><tspan x="3197" dy="19.9">samples = 14</tspan><tspan x="3197" dy="19.9">value = [0.071, 0.929]</tspan></text></g>
<g id="n123"><rect class="o7" x="4111" y="1400" width="128" height="72"/><text y="1422.1"><tspan x="4175">gini = 0.0</tspan><tspan x="4175" dy="19.9">samples = 8</tspan><tspan x="4175" dy="19.9">value = [1, 0]</tspan></text></g>
<g id="n124"><rect class="w" x="4263" y="1400" width="160" height="72"/><text y="1422.1"><tspan x="4343">gini = 0.5</tspan><tspan x="4343" dy="19.9">samples = 6</tspan><tspan x="4343" dy="19.9">value = [0.5, 0.5]</tspan></text></g>
<g id="n125"><rect class="b10" x="4785" y="1400" width="129" height="72"/><text y="1422.1"><tspan x="4849.5">gini = 0.0</tspan><tspan x="4849.5" dy="19.9">samples = 5</tspan><tspan x="4849.5" dy="19.9">value = [0, 1]</tspan></text></g>
<g id="n126"><rect class="b4" x="4938" y="1400" width="160" height="72"/><text y="1422.1"><tspan x="5018">gini = 0.48</tspan><tspan x="5018" dy="19.9">samples = 5</tspan><tspan x="5018" dy="19.9">value = [0.4, 0.6]</tspan></text></g>
<g id="n127"><rect class="b9" x="1839" y="1530" width="130" height="72"/><text y="1552.1"><tspan x="1904">gini = 0.0</tspan><tspan x="1904" dy="19.9">samples = 7</tspan><tspan x="1904" dy="19.9">value = [0, 1]</tspan></text></g>
<g id="n128"><rect class="w" x="1995" y="1530" width="158" height="72"/><text y="1552.1"><tspan x="2074">gini = 0.5</tspan><tspan x="2074" dy="19.9">samples = 6</tspan><tspan x="2074" dy="19.9">value = [0.5, 0.5]</tspan></text></g>
<g id="n129"><rect class="b8" x="2999" y="1530" width="206" height="72"/><text y="1552.1"><tspan x="3102">gini = 0.278</tspan><tspan x="3102" dy="19.9">samples = 6</tspan><tspan x="3102" dy="19.9">value = [0.167, 0.833]</tspan></text></g>
<g id="n130"><rect class="b9" x="3228" y="1530" width="131" height="72"/><text y="1552.1"><tspan x="3293.5">gini = 0.0</tspan><tspan x="3293.5" dy="19.9">samples = 8</tspan><tspan x="3293.5" dy="19.9">value = [0, 1]</tspan></text></g>
</g>
<g id="edges">
<path class="e" d="M3093.5 95L3018 143.6"/>
<path class="e" d="M3280 93Q3500 112 3684 173"/>
<path class="e" d="M2836.6 233.6L2707 286"/>
<path class="e" d="M2948 233.6L2947.5 282.2"/>
<path class="e" d="M3787 233.6L3786.5 282.2"/>
<path class="e" d="M3890 206.5L4493 311.4"/>
<path class="e" d="M2503 339.5L1561 453.3"/>
<path class="e" d="M2605 372.2L2605 420.8"/>
<path class="e" d="M2925.8 372.2L2897.9 429.8"/>
<path class="e" d="M2980.8 372.2L3023.4 429.8"/>
<path class="e" d="M3749.3 372.2L3709.2 420.8"/>
<path class="e" d="M3823.7 372.2L3863.8 420.8"/>
<path class="e" d="M4583.7 372.2L4583.3 420.8"/>
<path class="e" d="M4675 367.3L4796.4 420.8"/>
<path class="e" d="M1354 498L1116 572.2"/>
<path class="e" d="M1457.6 510.8L1458 559.4"/>
<path class="e" d="M2539.1 510.8L2467.9 559.4"/>
<path class="e" d="M2670.1 510.8L2740.4 559.4"/>
<path class="e" d="M3623.3 510.8L3561 568.4"/>
<path class="e" d="M3678.3 510.8L3686.4 568.4"/>
<path class="e" d="M3894.8 510.8L3886.9 568.4"/>
<path class="e" d="M3963.2 510.8L4030.3 559.4"/>
<path class="e" d="M4555.6 510.8L4525.9 559.4"/>
<path class="e" d="M4634.5 510.8L4700.3 568.4"/>
<path class="e" d="M4898.5 510.8L4899 568.4"/>
<path class="e" d="M4962.5 510.8L5031.5 559.4"/>
<path class="e" d="M909 646L771 701.6"/>
<path class="e" d="M1012.5 649.4L1012.5 698"/>
<path class="e" d="M1427 649.4L1387.3 707"/>
<path class="e" d="M1489.2 649.4L1522.8 698"/>
<path class="e" d="M2314.8 649.4L2203.2 707"/>
<path class="e" d="M2402 649.4L2402 698"/>
<path class="e" d="M2806 649.4L2806.5 698"/>
<path class="e" d="M2918.2 649.4L3039.8 698"/>
<path class="e" d="M4059.2 649.4L4023.3 698"/>
<path class="e" d="M4156.6 649.4L4225.9 698"/>
<path class="e" d="M4498.5 649.4L4499 707"/>
<path class="e" d="M4558.6 649.4L4635.5 707"/>
<path class="e" d="M5067.4 649.4L5031.5 707"/>
<path class="e" d="M5123.6 649.4L5159.5 707"/>
<path class="e" d="M565 786.2L444.8 836.6"/>
<path class="e" d="M668.5 788L669 836.6"/>
<path class="e" d="M982.6 788L944.4 845.6"/>
<path class="e" d="M1037.7 788L1069.9 845.6"/>
<path class="e" d="M1487.4 788L1415.6 836.6"/>
<path class="e" d="M1593.6 788L1636.4 836.6"/>
<path class="e" d="M2327.5 788L2247 836.6"/>
<path class="e" d="M2402 788L2402.5 845.6"/>
<path class="e" d="M2743.2 788L2661.5 845.6"/>
<path class="e" d="M2827.5 788L2849.5 836.6"/>
<path class="e" d="M3152.5 788L3152.5 845.6"/>
<path class="e" d="M3252.3 788L3360.2 836.6"/>
<path class="e" d="M3906.2 788L3799 845.6"/>
<path class="e" d="M3990 788L3990 836.6"/>
<path class="e" d="M4295.5 788L4301.5 836.6"/>
<path class="e" d="M4392 786L4597 836.6"/>
<path class="e" d="M263 926.6L167.6 984.2"/>
<path class="e" d="M337.5 926.6L337.5 984.2"/>
<path class="e" d="M635.9 926.6L592.9 984.2"/>
<path class="e" d="M710.2 926.6L762.4 984.2"/>
<path class="e" d="M1240.1 926.6L1104 982.8"/>
<path class="e" d="M1349 926.6L1349 975.2"/>
<path class="e" d="M1676 926.6L1676 975.2"/>
<path class="e" d="M1751.3 926.6L1832.7 975.2"/>
<path class="e" d="M2164.9 926.6L2155.1 984.2"/>
<path class="e" d="M2251.2 926.6L2336.3 975.2"/>
<path class="e" d="M2870 926.6L2870 975.2"/>
<path class="e" d="M2937.4 926.6L3023.6 984.2"/>
<path class="e" d="M3416.2 926.6L3360.1 984.2"/>
<path class="e" d="M3476.6 926.6L3497.8 984.2"/>
<path class="e" d="M3922.6 926.6L3836.4 984.2"/>
<path class="e" d="M3990 926.6L3990 984.2"/>
<path class="e" d="M4291.4 926.6L4274.6 975.2"/>
<path class="e" d="M4366.3 926.6L4442.1 984.2"/>
<path class="e" d="M4797 926.6L4797.5 975.2"/>
<path class="e" d="M4908.8 926.6L5042 979.9"/>
<path class="e" d="M945.8 1065.2L872.7 1113.8"/>
<path class="e" d="M1013 1065.2L1011.7 1122.8"/>
<path class="e" d="M1290.6 1065.2L1215.7 1122.8"/>
<path class="e" d="M1349.6 1065.2L1350.4 1113.8"/>
<path class="e" d="M1628.8 1065.2L1568.3 1122.8"/>
<path class="e" d="M1683.3 1065.2L1692.7 1122.8"/>
<path class="e" d="M1908 1065.2L1908 1113.8"/>
<path class="e" d="M1970.3 1065.2L2050.1 1122.8"/>
<path class="e" d="M2379.3 1065.2L2340.7 1113.8"/>
<path class="e" d="M2471.3 1065.2L2532.2 1113.8"/>
<path class="e" d="M2870 1065.2L2870 1122.8"/>
<path class="e" d="M2957.7 1065.2L3052.3 1113.8"/>
<path class="e" d="M4185.8 1065.2L4092.1 1122.8"/>
<path class="e" d="M4259 1065.2L4258.5 1113.8"/>
<path class="e" d="M4746.7 1065.2L4691.8 1113.8"/>
<path class="e" d="M4841.8 1065.2L4889.7 1113.8"/>
<path class="e" d="M5142.5 1065.2L5142.5 1122.8"/>
<path class="e" d="M5202.1 1065.2L5278.3 1122.8"/>
<path class="e" d="M734.9 1203.8L645.1 1261.4"/>
<path class="e" d="M805 1203.8L804.5 1252.4"/>
<path class="e" d="M1269 1203.8L1180.5 1252.4"/>
<path class="e" d="M1368.5 1203.8L1391 1261.4"/>
<path class="e" d="M1844 1203.8L1775 1252.4"/>
<path class="e" d="M1944 1203.8L1983 1252.4"/>
<path class="e" d="M2274.2 1203.8L2234.7 1261.4"/>
<path class="e" d="M2329.4 1203.8L2360.5 1261.4"/>
<path class="e" d="M2588.5 1203.8L2588 1261.4"/>
<path class="e" d="M2662.7 1203.8L2757.7 1261.4"/>
<path class="e" d="M3124.6 1203.8L3107.9 1252.4"/>
<path class="e" d="M3188.4 1203.8L3250.3 1261.4"/>
<path class="e" d="M4181.7 1203.8L4083.4 1261.4"/>
<path class="e" d="M4258.5 1203.8L4258 1252.4"/>
<path class="e" d="M4598.6 1203.8L4544.4 1261.4"/>
<path class="e" d="M4666 1203.8L4698 1261.4"/>
<path class="e" d="M4934.3 1203.8L4934.7 1252.4"/>
<path class="e" d="M5004.1 1203.8L5093.9 1261.4"/>
<path class="e" d="M743.9 1342.4L666.4 1400"/>
<path class="e" d="M811.6 1342.4L820.8 1400"/>
<path class="e" d="M1091.4 1342.4L1082.2 1400"/>
<path class="e" d="M1146.6 1342.4L1208.1 1400"/>
<path class="e" d="M1661.5 1342.4L1598.1 1400"/>
<path class="e" d="M1716.5 1342.4L1723.6 1400"/>
<path class="e" d="M2008.8 1342.4L1997.7 1391"/>
<path class="e" d="M2096.8 1342.4L2196.3 1400"/>
<path class="e" d="M3058.9 1342.4L3015.9 1400"/>
<path class="e" d="M3126.4 1342.4L3163.1 1391"/>
<path class="e" d="M4231.1 1342.4L4196.6 1400"/>
<path class="e" d="M4285.6 1342.4L4320.9 1400"/>
<path class="e" d="M4907.2 1342.4L4871.7 1400"/>
<path class="e" d="M4961.9 1342.4L4996.4 1400"/>
<path class="e" d="M1958.6 1481L1927.1 1530"/>
<path class="e" d="M2017.4 1481L2050 1530"/>
<path class="e" d="M3164.1 1481L3128.3 1530"/>
<path class="e" d="M3230.4 1481L3266.8 1530"/>
<text x="3019" y="121">True</text>
<text x="3664" y="151">False</text>
</g>
</svg>
